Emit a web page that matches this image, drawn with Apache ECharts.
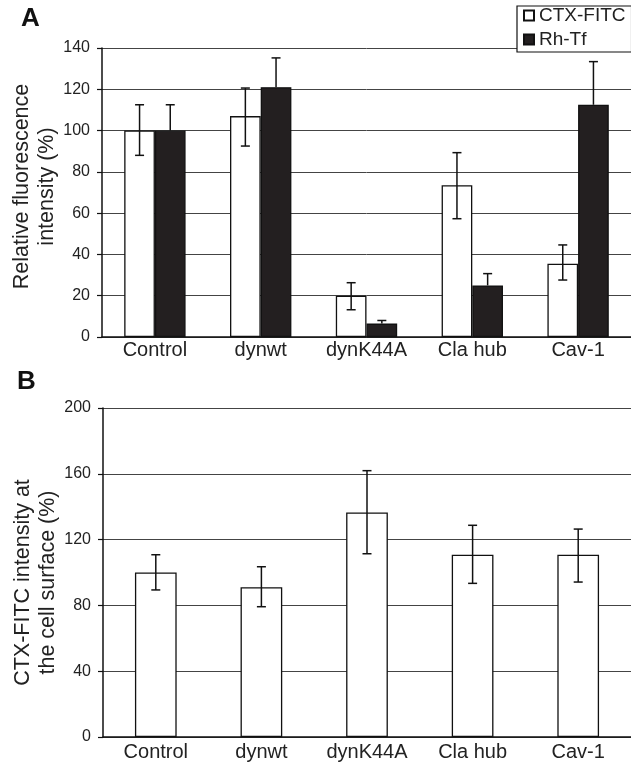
<!DOCTYPE html>
<html>
<head>
<meta charset="utf-8">
<script src="https://cdn.jsdelivr.net/npm/echarts@6/dist/echarts.min.js"></script>
<style>
html,body{margin:0;padding:0;background:#fff;}
#c{width:631px;height:763px;}
</style>
</head>
<body>
<div id="c"></div>
<script>
const categories = ['Control', 'dynwt', 'dynK44A', 'Cla hub', 'Cav-1'];
const ticksA = [0, 20, 40, 60, 80, 100, 120, 140];
const ticksB = [0, 40, 80, 120, 160, 200];

// Panel A
const ctxA = [100, 107, 20, 73.5, 35.5];
const ctxAHigh = [112.5, 120.6, 26.3, 89.3, 44.6];
const ctxALow = [88, 92.5, 13.2, 57.3, 27.6];
const tfA = [100, 121, 6.5, 25, 112.5];
const tfAHigh = [112.5, 135.2, 8, 30.7, 133.4];
const tfALow = [87.5, 106.8, 5, 19.3, 91.6];

// Panel B
const ctxB = [100, 91, 136.5, 110.8, 110.8];
const ctxBHigh = [110.8, 103.5, 161.9, 128.7, 126.4];
const ctxBLow = [89.4, 79.2, 111.4, 93.4, 94.2];

const FONT = 'Liberation Sans, Arial, sans-serif';
const TXT = '#222';

function errData(low, high, mean) {
  return categories.map((c, i) => [i, low[i], high[i], mean[i]]);
}
// the lower half of an error bar inside a black bar is hidden (black on black)
function errRender(offFrac, hideLower) {
  return function (params, api) {
    const x = api.value(0);
    const lo = api.coord([x, api.value(1)]);
    const hi = api.coord([x, api.value(2)]);
    const mid = api.coord([x, api.value(3)]);
    const bw = api.size([1, 0])[0];
    const cx = lo[0] + offFrac * bw;
    const cap = 4.5;
    const st = { stroke: '#111', lineWidth: 1.5 };
    const kids = [
      { type: 'line', shape: { x1: cx, y1: hideLower ? mid[1] : lo[1], x2: cx, y2: hi[1] }, style: st },
      { type: 'line', shape: { x1: cx - cap, y1: hi[1], x2: cx + cap, y2: hi[1] }, style: st }
    ];
    if (!hideLower) {
      kids.push({ type: 'line', shape: { x1: cx - cap, y1: lo[1], x2: cx + cap, y2: lo[1] }, style: st });
    }
    return { type: 'group', children: kids };
  };
}

function yAxisCfg(gridIndex, max, interval, name, padding) {
  return {
    gridIndex: gridIndex, type: 'value', min: 0, max: max, interval: interval,
    name: name, nameLocation: 'middle', nameGap: 42, nameMoveOverlap: false,
    nameTextStyle: { fontFamily: FONT, fontSize: 21.5, color: TXT, lineHeight: 25, padding: padding },
    axisLine: { show: true, lineStyle: { color: '#111', width: 1.5 } },
    axisTick: { show: true, inside: false, length: 5, lineStyle: { color: '#111', width: 1.2 } },
    axisLabel: { fontFamily: FONT, fontSize: 16, color: TXT, margin: 12 },
    splitLine: { show: true, lineStyle: { color: '#444', width: 1 } }
  };
}
function xAxisCfg(gridIndex, margin) {
  return {
    gridIndex: gridIndex, type: 'category', data: categories,
    axisLine: { show: true, lineStyle: { color: '#111', width: 1.5 } },
    axisTick: { show: false },
    axisLabel: { fontFamily: FONT, fontSize: 20, color: TXT, margin: margin, interval: 0 }
  };
}

const bwA = 0.29;
const bwB = 0.395;

const option = {
  animation: false,
  backgroundColor: '#fff',
  textStyle: { fontFamily: FONT },
  graphic: [
    { type: 'text', left: 21, top: 6, style: { text: 'A', font: 'bold 26px ' + FONT, fill: '#111' } },
    { type: 'text', left: 17, top: 369, style: { text: 'B', font: 'bold 26px ' + FONT, fill: '#111' } }
  ],
  legend: {
    data: ['CTX-FITC', 'Rh-Tf'],
    orient: 'vertical', left: 517, top: 6,
    backgroundColor: '#fff',
    borderColor: '#111', borderWidth: 1.2,
    padding: [0, 6, 3, 6],
    itemWidth: 10, itemHeight: 10, itemGap: 5, itemTextGap: 7,
    icon: 'rect',
    textStyle: { fontFamily: FONT, fontSize: 19, color: TXT, lineHeight: 16 }
  },
  grid: [
    { left: 102, right: 0, top: 48, height: 289, containLabel: false, outerBoundsMode: 'none' },
    { left: 103, right: 0, top: 408, height: 329, containLabel: false, outerBoundsMode: 'none' }
  ],
  xAxis: [xAxisCfg(0, 3), xAxisCfg(1, 5)],
  yAxis: [
    yAxisCfg(0, 140, 20, 'Relative fluorescence\nintensity (%)', [0, 0, 0, 12]),
    yAxisCfg(1, 200, 40, 'CTX-FITC intensity at\nthe cell surface (%)', [0, 20, 0, 0])
  ],
  series: [
    { name: 'CTX-FITC', type: 'bar', xAxisIndex: 0, yAxisIndex: 0, data: ctxA,
      barWidth: (bwA * 100) + '%', barGap: '0%',
      itemStyle: { color: '#fff', borderColor: '#111', borderWidth: 1.3 } },
    { name: 'Rh-Tf', type: 'bar', xAxisIndex: 0, yAxisIndex: 0, data: tfA,
      barWidth: (bwA * 100) + '%', barGap: '0%',
      itemStyle: { color: '#231f20', borderColor: '#111', borderWidth: 1.3 } },
    { name: 'errCtxA', type: 'custom', xAxisIndex: 0, yAxisIndex: 0, z: 5,
      data: errData(ctxALow, ctxAHigh, ctxA), renderItem: errRender(-bwA / 2, false) },
    { name: 'errTfA', type: 'custom', xAxisIndex: 0, yAxisIndex: 0, z: 5,
      data: errData(tfALow, tfAHigh, tfA), renderItem: errRender(bwA / 2, true) },
    { name: 'CTX-FITC B', type: 'bar', xAxisIndex: 1, yAxisIndex: 1, data: ctxB,
      barWidth: (bwB * 100) + '%',
      itemStyle: { color: '#fff', borderColor: '#111', borderWidth: 1.3 } },
    { name: 'errCtxB', type: 'custom', xAxisIndex: 1, yAxisIndex: 1, z: 5,
      data: errData(ctxBLow, ctxBHigh, ctxB), renderItem: errRender(0, false) }
  ]
};

const chart = echarts.init(document.getElementById('c'), null, { renderer: 'canvas' });
chart.setOption(option);
</script>
</body>
</html>
